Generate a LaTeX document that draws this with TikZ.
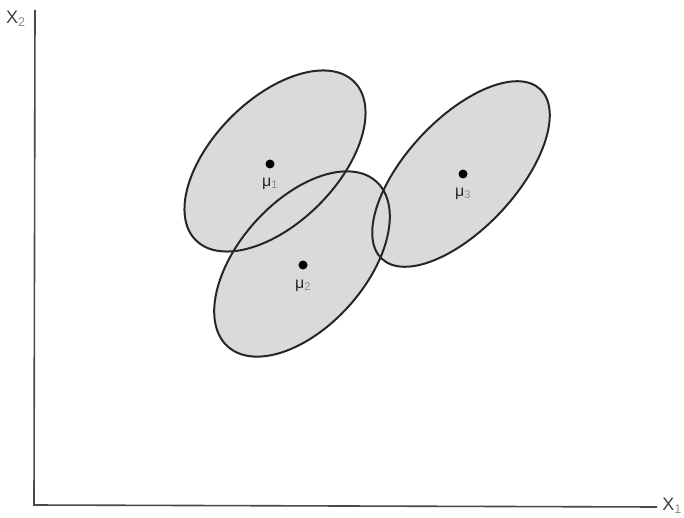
\documentclass[tikz,border=0pt]{standalone}
\usepackage{fontspec}
\setmainfont{Liberation Sans}
\usetikzlibrary{positioning}
\definecolor{blobgray}{RGB}{218,218,218}
\definecolor{axisgray}{RGB}{70,74,72}
\newcommand{\idx}[1]{\textsubscript{\color{black!45}#1}}
\tikzset{
  blob/.style={fill=blobgray},
  rim/.style={draw=black!85, line width=2pt},
  mean/.style={circle, fill=black, inner sep=0pt, minimum size=9pt},
  meanlabel/.style={font=\fontsize{16}{18}\selectfont, text=black!85, inner sep=1pt},
  axis/.style={draw=axisgray, line width=1.6pt},
  axislabel/.style={font=\fontsize{18}{20}\selectfont, text=black!75, inner sep=0pt}
}
\begin{document}
\begin{tikzpicture}[x=1pt, y=-1pt]
    \useasboundingbox (0,0) rectangle (684,518);
    % axes
    \coordinate (ytop) at (35,10);
    \coordinate (origin) at (34,505);
    \coordinate (xend) at (657,507);
    \draw[axis] (ytop) -- (origin) -- (xend);
    \node[axislabel] (xtwo) at (16,19) {X\idx{2}};
    \node[axislabel, anchor=east] (xone) at (682,506) {X\idx{1}};
    % clusters: centre / angle / radii
    \foreach \cx/\cy/\ang/\ra/\rb in {275/161/45/112/62, 302/264/48/111/63, 461/174/47/116/55}
        \fill[blob, rotate around={\ang:(\cx,\cy)}] (\cx,\cy) ellipse [x radius=\ra, y radius=\rb];
    \foreach \cx/\cy/\ang/\ra/\rb in {275/161/45/112/62, 302/264/48/111/63, 461/174/47/116/55}
        \draw[rim, rotate around={\ang:(\cx,\cy)}] (\cx,\cy) ellipse [x radius=\ra, y radius=\rb];
    % means
    \node[mean] (mu1) at (270,164) {};
    \node[mean] (mu2) at (303,265) {};
    \node[mean] (mu3) at (463,174) {};
    \node[meanlabel, below=8pt of mu1] (lab1) {μ\idx{1}};
    \node[meanlabel, below=9pt of mu2] (lab2) {μ\idx{2}};
    \node[meanlabel, below=8pt of mu3] (lab3) {μ\idx{3}};
\end{tikzpicture}
\end{document}
